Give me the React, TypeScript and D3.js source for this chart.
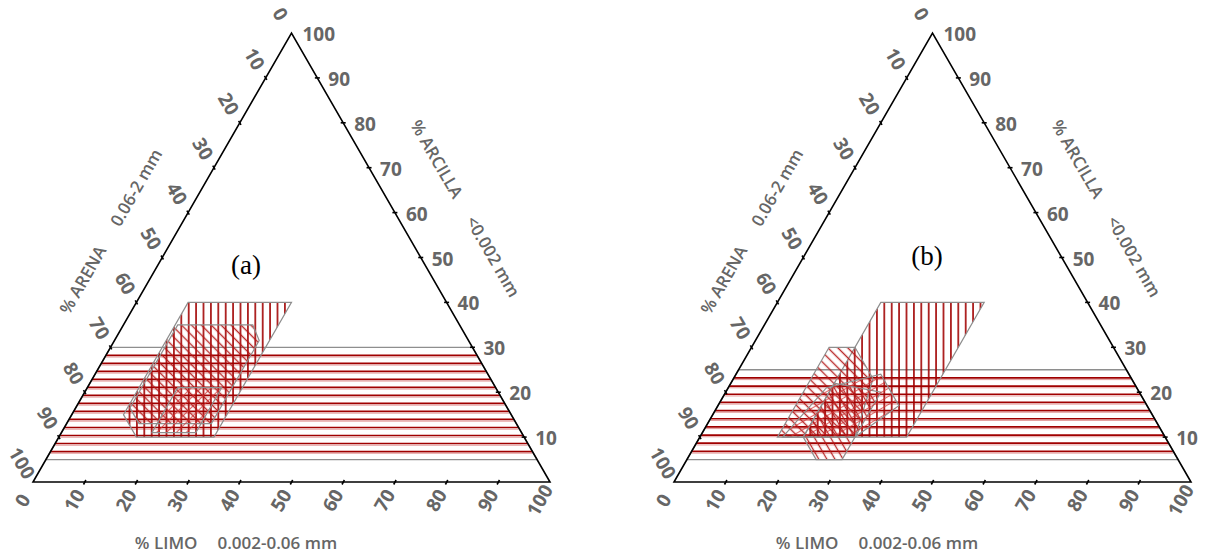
import * as d3 from 'd3';

// ternary coordinates are [silt, clay]; sand = 100 - silt - clay
const TICKS = [0, 10, 20, 30, 40, 50, 60, 70, 80, 90, 100];
const CLAY_TICKS = [10, 20, 30, 40, 50, 60, 70, 80, 90, 100];

const SAND_TITLE = ['% ARENA', '0.06-2 mm'];
const CLAY_TITLE = ['% ARCILLA', '<0.002 mm'];
const SILT_TITLE = ['% LIMO', '0.002-0.06 mm'];

// panel (a)
const BAND_A = [5, 30];
const VERT_A = [[10, 40], [30, 40], [30, 10], [15, 10], [10, 15]];
const BACK_A = [[10.5, 35], [25, 35], [28, 31.5], [28, 13], [14, 13], [10.5, 16.5]];
const FWD_A = [[17.5, 11], [26, 11], [26, 21], [17.5, 21]];

// panel (b)
const BAND_B = [5, 25];
const VERT_B = [[20, 40], [40, 40], [40, 10], [20, 10]];
const BACK_B = [[15, 30], [20, 30], [27, 23], [30, 10], [15, 10]];
const STEEP_B = [[20, 10], [25, 5], [30, 5], [30, 20], [20, 22]];
const FWD_B = [[16, 10], [30, 10], [35, 17], [28, 24], [19, 21]];

const GREY = '#666666';
const OUTLINE = '#8e8e8e';
const RED = '#a00000';

type Shape = { pts: number[][]; fill: string };

function Panel({ dx, tag, tagX, tagY, band, shapes }: { dx: number; tag: string; tagX: number; tagY: number; band: number[]; shapes: Shape[] }) {
  const x = d3.scaleLinear().domain([0, 100]).range([33 + dx, 550 + dx]);
  const y = d3.scaleLinear().domain([0, 100]).range([482, 33]);
  const pt = (silt: number, clay: number): [number, number] => [x(silt + clay / 2), y(clay)];
  const poly = d3.line().curve(d3.curveLinearClosed);

  const [c0, c1] = band;
  const bandPts = [pt(0, c0), pt(100 - c0, c0), pt(100 - c1, c1), pt(0, c1)];
  const nLines = Math.round((y(c0) - y(c1)) / 8);
  const bandLines = d3.range(1, nLines).map((k) => c1 - ((c1 - c0) * k) / nLines);

  const corners = [pt(0, 0), pt(100, 0), pt(0, 100)];
  const font = { fontFamily: 'Open Sans', fontWeight: 700, fill: GREY } as const;

  return (
    <g>
      {/* horizontal band */}
      {bandLines.map((c, i) => {
        const [xa, ya] = pt(0, c);
        const [xb] = pt(100 - c, c);
        return (
          <g key={i}>
            <line x1={xa} x2={xb} y1={ya} y2={ya} stroke={RED} strokeWidth={1.7} />
            <line x1={xa} x2={xb} y1={ya + 1.7} y2={ya + 1.7} stroke="#e29a9a" strokeWidth={1} />
          </g>
        );
      })}
      <path d={poly(bandPts) ?? ''} fill="none" stroke={OUTLINE} strokeWidth={1.3} />

      {shapes.map((s, i) => (
        <path key={i} d={poly(s.pts.map((p) => pt(p[0], p[1]))) ?? ''} fill={s.fill} stroke={OUTLINE} strokeWidth={1.2} />
      ))}

      {/* axes */}
      <path d={poly(corners) ?? ''} fill="none" stroke="#000" strokeWidth={1.6} />
      {TICKS.slice(1, -1).map((v) => {
        const [bx, by] = pt(v, 0);
        const [lx, ly] = pt(0, 100 - v);
        const [rx, ry] = pt(100 - v, v);
        return (
          <g key={v} stroke="#000" strokeWidth={1.6}>
            <line x1={bx + 1.2} y1={by - 2} x2={bx - 1.2} y2={by + 2.5} />
            <line x1={lx - 1.2} y1={ly - 2} x2={lx + 1.2} y2={ly + 2} />
            <line x1={rx - 2.5} y1={ry} x2={rx + 2.5} y2={ry} />
          </g>
        );
      })}

      {/* tick labels */}
      {TICKS.map((v) => {
        const [lx, ly] = pt(0, 100 - v);
        const sx = lx - 0.5 * 22;
        const sy = ly - 0.866 * 22;
        const [bx, by] = pt(v, 0);
        const tx = bx - 0.5 * 21;
        const ty = by + 0.866 * 21;
        return (
          <g key={v} {...font} fontSize={19}>
            <text x={sx} y={sy} textAnchor="middle" dominantBaseline="central" transform={`rotate(60 ${sx} ${sy})`}>{v}</text>
            <text x={tx} y={ty} textAnchor="middle" dominantBaseline="central" transform={`rotate(-60 ${tx} ${ty})`}>{v}</text>
          </g>
        );
      })}
      {CLAY_TICKS.map((v) => {
        const [rx, ry] = pt(100 - v, v);
        return (
          <text key={v} x={rx + 11} y={ry + 1} dominantBaseline="central" {...font} fontSize={19}>{v}</text>
        );
      })}

      {/* axis titles */}
      <text x={110 + dx} y={231} textAnchor="middle" dominantBaseline="central" transform={`rotate(-60 ${110 + dx} 231)`} {...font} fontWeight={600} fontSize={17}>
        <tspan>{SAND_TITLE[0]}</tspan>
        <tspan dx={26}>{SAND_TITLE[1]}</tspan>
      </text>
      <text x={466 + dx} y={208} textAnchor="middle" dominantBaseline="central" transform={`rotate(60 ${466 + dx} 208)`} {...font} fontWeight={600} fontSize={17}>
        <tspan>{CLAY_TITLE[0]}</tspan>
        <tspan dx={24}>{CLAY_TITLE[1]}</tspan>
      </text>
      <text x={236 + dx} y={542} textAnchor="middle" dominantBaseline="central" {...font} fontWeight={600} fontSize={17}>
        <tspan>{SILT_TITLE[0]}</tspan>
        <tspan dx={20}>{SILT_TITLE[1]}</tspan>
      </text>

      <text x={tagX + dx} y={tagY} textAnchor="middle" dominantBaseline="central" fontFamily="Liberation Serif" fontSize={27} fill="#000">{tag}</text>
    </g>
  );
}

function Hatch({ id, size, angle, horizontal, color, width, opacity }: { id: string; size: number; angle: number; horizontal?: boolean; color: string; width: number; opacity?: number }) {
  return (
    <pattern id={id} patternUnits="userSpaceOnUse" width={size} height={size} patternTransform={`rotate(${angle})`}>
      {horizontal ? (
        <line x1={0} x2={size} y1={size / 2} y2={size / 2} stroke={color} strokeWidth={width} strokeOpacity={opacity ?? 1} />
      ) : (
        <line y1={0} y2={size} x1={size / 2} x2={size / 2} stroke={color} strokeWidth={width} strokeOpacity={opacity ?? 1} />
      )}
    </pattern>
  );
}

export default function App() {
  return (
    <svg width={1208} height={554} style={{ position: 'absolute', left: 0, top: 0, background: '#fff' }}>
      <defs>
        <Hatch id="vert" size={7.4} angle={0} color={RED} width={1.6} />
        <Hatch id="back" size={7} angle={-45} color="#b31515" width={1.4} opacity={0.9} />
        <Hatch id="steep" size={7} angle={-30} color="#b31515" width={1.3} opacity={0.9} />
        <Hatch id="fwd" size={7} angle={45} color="#d03535" width={1.1} opacity={0.75} />
        <Hatch id="shallow" size={7} angle={-30} horizontal color="#d03535" width={1.1} opacity={0.75} />
      </defs>
      <Panel
        dx={0}
        tag="(a)"
        tagX={246}
        tagY={265}
        band={BAND_A}
        shapes={[
          { pts: VERT_A, fill: 'url(#vert)' },
          { pts: BACK_A, fill: 'url(#back)' },
          { pts: FWD_A, fill: 'url(#fwd)' },
        ]}
      />
      <Panel
        dx={641}
        tag="(b)"
        tagX={286}
        tagY={256}
        band={BAND_B}
        shapes={[
          { pts: VERT_B, fill: 'url(#vert)' },
          { pts: BACK_B, fill: 'url(#back)' },
          { pts: STEEP_B, fill: 'url(#steep)' },
          { pts: FWD_B, fill: 'url(#shallow)' },
        ]}
      />
    </svg>
  );
}
